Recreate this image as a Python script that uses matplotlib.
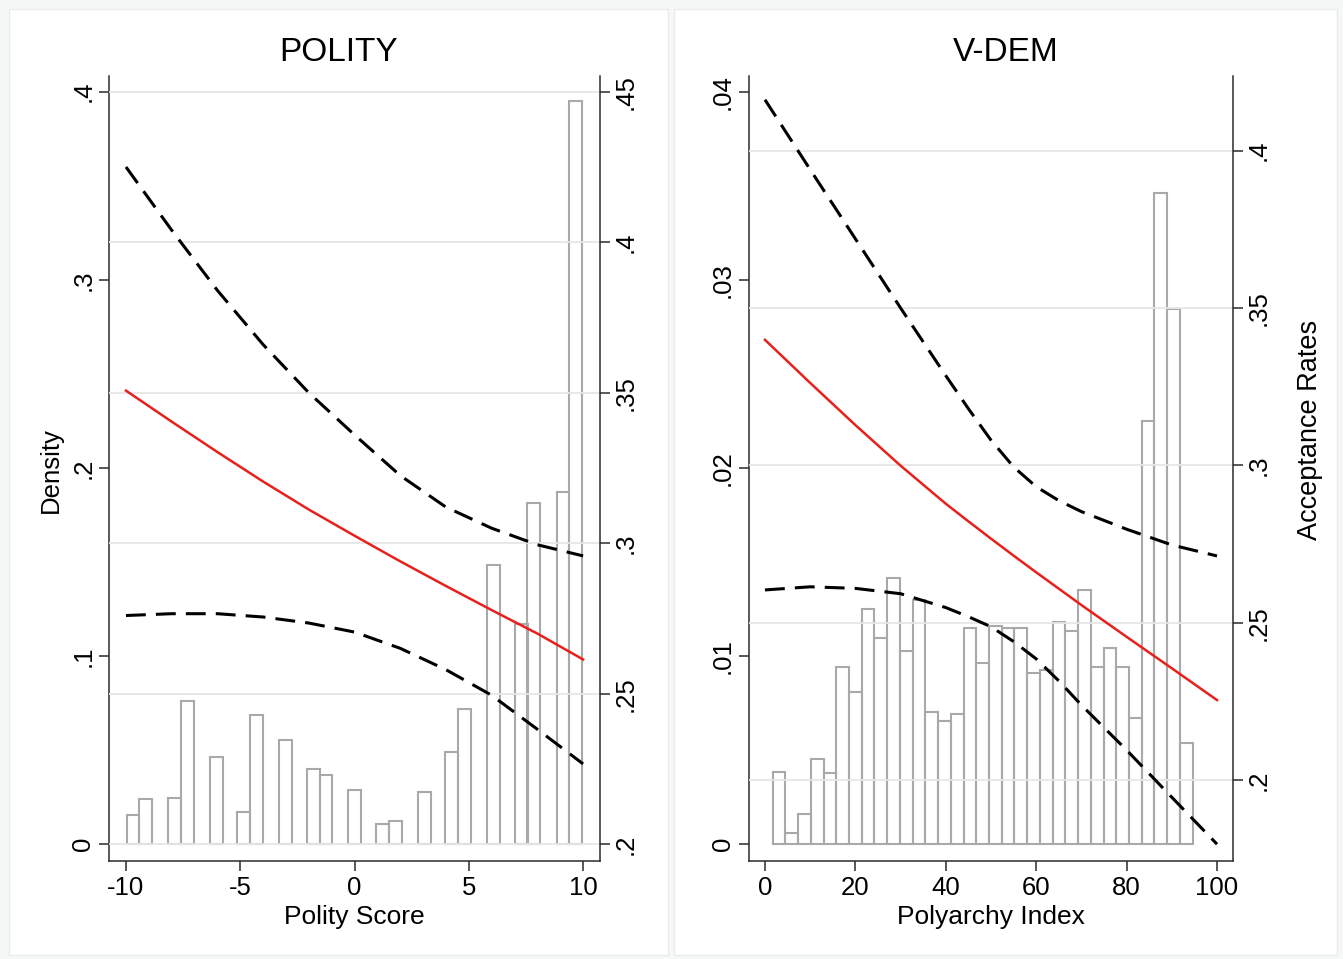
import numpy as np
import matplotlib.pyplot as plt
from matplotlib.patches import Rectangle

plt.rcParams['font.family'] = ['Liberation Sans', 'DejaVu Sans']

# ---- POLITY panel ----
# histogram (left axis: density)
polity_bin_left = [-9.97, -9.42, -8.15, -7.59, -6.32, -5.13, -4.57, -3.30, -2.08, -1.52,
                   -0.27, 0.95, 1.50, 2.77, 3.97, 4.53, 5.81, 7.02, 7.56, 8.85, 9.40]
polity_density = [0.0156, 0.0239, 0.0248, 0.0760, 0.0466, 0.0173, 0.0687, 0.0554, 0.0401, 0.0368,
                  0.0287, 0.0106, 0.0124, 0.0278, 0.0491, 0.0718, 0.1484, 0.1169, 0.1814, 0.1871, 0.3951]
polity_bin_width = 0.555

# predicted acceptance rate with 95% CI (right axis)
polity_x = [-10, -8, -6, -4, -2, 0, 2, 4, 6, 8, 10]
polity_rate = [0.3507, 0.3404, 0.3303, 0.3205, 0.3112, 0.3025, 0.2940, 0.2858, 0.2778, 0.2700, 0.2614]
polity_upper = [0.4250, 0.4040, 0.3840, 0.3660, 0.3500, 0.3360, 0.3225, 0.3120, 0.3050, 0.2995, 0.2958]
polity_lower = [0.2760, 0.2766, 0.2766, 0.2755, 0.2735, 0.2705, 0.2651, 0.2580, 0.2495, 0.2382, 0.2267]

# ---- V-DEM panel ----
vdem_bin_edges = np.linspace(1.7, 94.6, 34)
vdem_density = [0.00383, 0.00058, 0.00161, 0.00452, 0.00381, 0.00944, 0.00808, 0.01249, 0.01098,
                0.01417, 0.01027, 0.01297, 0.00705, 0.00655, 0.00691, 0.01148, 0.00962, 0.01160,
                0.01148, 0.01148, 0.00909, 0.00926, 0.01180, 0.01135, 0.01352, 0.00944, 0.01045,
                0.00944, 0.00670, 0.02251, 0.03460, 0.02845, 0.00537]

vdem_x = [0, 10, 20, 30, 40, 45, 50, 55, 60, 65, 70, 80, 90, 100]
vdem_rate = [0.3399, 0.3262, 0.3128, 0.2999, 0.2878, 0.2822, 0.2767, 0.2713, 0.2660, 0.2608,
             0.2556, 0.2455, 0.2355, 0.2254]
vdem_upper = [0.4162, 0.3940, 0.3720, 0.3500, 0.3285, 0.3180, 0.3080, 0.2995, 0.2932, 0.2888,
              0.2853, 0.2797, 0.2747, 0.2712]
vdem_lower = [0.2604, 0.2614, 0.2609, 0.2592, 0.2548, 0.2519, 0.2487, 0.2440, 0.2385, 0.2315,
              0.2238, 0.2095, 0.1945, 0.1796]

W, H = 1343, 959
fig = plt.figure(figsize=(W / 100, H / 100), dpi=100, facecolor='#f6f7f7')

# panel backgrounds (graph combine look)
for x0, x1 in [(9, 668), (674, 1337)]:
    fig.patches.append(Rectangle((x0 / W, 1 - 955 / H), (x1 - x0) / W, (955 - 9) / H,
                                 transform=fig.transFigure, facecolor='white',
                                 edgecolor='#e9ecec', lw=1.0, zorder=-10))

AX_COL = '#2b2b2b'
BAR_COL = '#a9a9a9'
GRID_COL = '#e6e6e6'
FS = 18.5


def panel(left, right, title, title_x, bins_left, widths, dens, x, rate, upper, lower,
          xlim, ylim_l, ylim_r, xticks, xtlabels, yl_ticks, yl_labels, yr_ticks, yr_labels,
          xlabel, ylabel_left=None, ylabel_right=None):
    bottom, top = 1 - 860.7 / H, 1 - 76 / H
    ax = fig.add_axes([left / W, bottom, (right - left) / W, top - bottom])
    ax.patch.set_alpha(0)
    ax2 = ax.twinx()

    ax.bar(bins_left, dens, width=widths, align='edge', facecolor='none',
           edgecolor=BAR_COL, linewidth=1.5, zorder=3)

    for yv in yr_ticks:
        ax2.axhline(yv, color=GRID_COL, lw=1.3, zorder=0)
    ax2.plot(x, upper, color='black', lw=2.2, dashes=(6.5, 3.3), zorder=5)
    ax2.plot(x, lower, color='black', lw=2.2, dashes=(6.5, 3.3), zorder=5)
    ax2.plot(x, rate, color='#e8201c', lw=1.8, zorder=6)

    ax.set_xlim(*xlim)
    ax.set_ylim(*ylim_l)
    ax2.set_ylim(*ylim_r)

    ax.set_xticks(xticks)
    ax.set_xticklabels(xtlabels)
    ax.set_yticks(yl_ticks)
    ax.set_yticklabels(yl_labels)
    ax2.set_yticks(yr_ticks)
    ax2.set_yticklabels(yr_labels)

    for a in (ax, ax2):
        for s in a.spines.values():
            s.set_visible(False)
            s.set_color(AX_COL)
            s.set_linewidth(1.1)
        a.tick_params(length=7.2, width=1.1, color=AX_COL, labelsize=FS, pad=3)
    ax.spines['left'].set_visible(True)
    ax.spines['bottom'].set_visible(True)
    ax2.spines['right'].set_visible(True)
    ax.tick_params(axis='x', pad=4)
    ax.tick_params(axis='y', labelrotation=90, pad=3)
    ax2.tick_params(axis='y', labelrotation=90, pad=2.5)
    for lab in ax.get_yticklabels() + ax2.get_yticklabels():
        lab.set_va('center')

    ax.set_xlabel(xlabel, fontsize=19)
    ax.xaxis.set_label_coords(0.5, -0.056)
    if ylabel_left:
        ax.set_ylabel(ylabel_left, fontsize=FS)
        ax.yaxis.set_label_coords(-0.094, 0.498)
    if ylabel_right:
        ax2.set_ylabel(ylabel_right, fontsize=19.5, rotation=90)
        ax2.yaxis.set_label_coords(1.131, 0.549)

    fig.text(title_x / W, 1 - 52.8 / H, title, fontsize=24, ha='center', va='center')


panel(109.3, 600, 'POLITY', 339,
      polity_bin_left, polity_bin_width, polity_density,
      polity_x, polity_rate, polity_upper, polity_lower,
      (-10.73, 10.74), (-0.00872, 0.40834), (0.19455, 0.45522),
      [-10, -5, 0, 5, 10], ['-10', '-5', '0', '5', '10'],
      [0, 0.1, 0.2, 0.3, 0.4], ['0', '.1', '.2', '.3', '.4'],
      [0.2, 0.25, 0.3, 0.35, 0.4, 0.45], ['.2', '.25', '.3', '.35', '.4', '.45'],
      'Polity Score', ylabel_left='Density')

panel(748.7, 1233.3, 'V-DEM', 1006,
      vdem_bin_edges[:-1], np.diff(vdem_bin_edges), vdem_density,
      vdem_x, vdem_rate, vdem_upper, vdem_lower,
      (-3.6, 103.6), (-0.000872, 0.040834), (0.17435, 0.42374),
      [0, 20, 40, 60, 80, 100], ['0', '20', '40', '60', '80', '100'],
      [0, 0.01, 0.02, 0.03, 0.04], ['0', '.01', '.02', '.03', '.04'],
      [0.2, 0.25, 0.3, 0.35, 0.4], ['.2', '.25', '.3', '.35', '.4'],
      'Polyarchy Index', ylabel_right='Acceptance Rates')

fig.savefig('out.png', dpi=100, facecolor=fig.get_facecolor())
